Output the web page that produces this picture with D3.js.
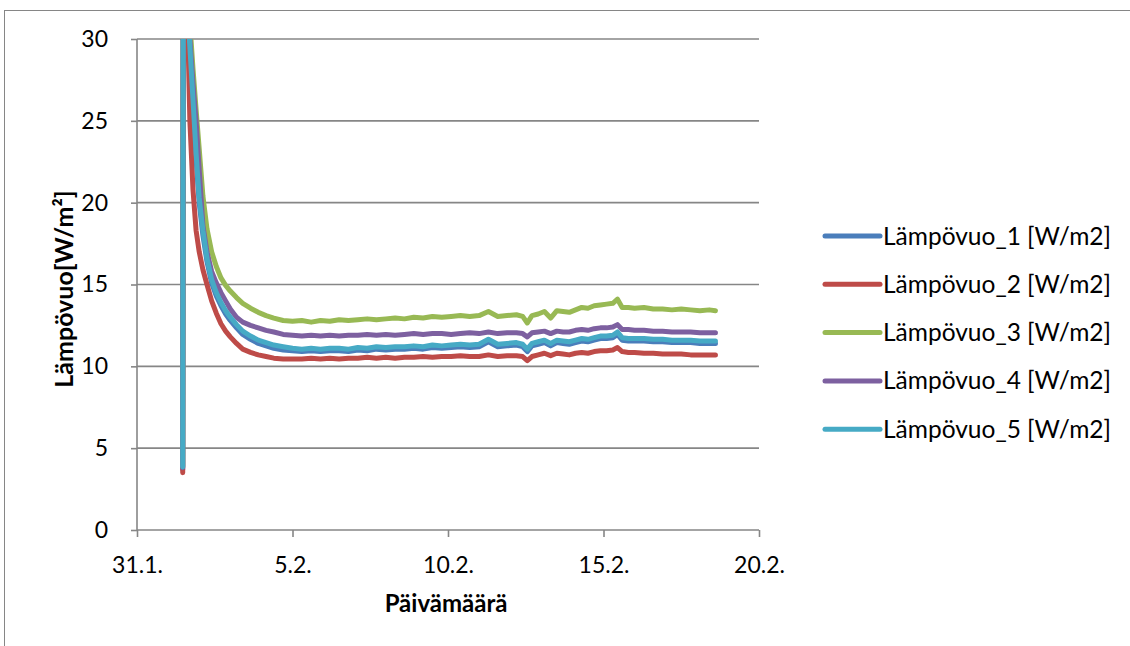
<!DOCTYPE html>
<html lang="fi">
<head>
<meta charset="UTF-8">
<title>Lämpövuo</title>
<script src="https://d3js.org/d3.v7.min.js"></script>
<style>
  body { margin: 0; background: #fff; }
  svg text { font-family: Lato, "Open Sans", sans-serif; fill: #000; }
</style>
</head>
<body>
<div id="chart"></div>
<script>
// days after 31.1. (fractional)
const dayOffsets = [1.47, 1.50, 1.64, 1.70, 1.80, 1.90, 2.00, 2.12, 2.25, 2.40, 2.55, 2.70, 2.85, 3.00, 3.20, 3.40, 3.65, 3.90, 4.15, 4.40, 4.70, 5.00,
  5.30, 5.60, 5.90, 6.20, 6.50, 6.80, 7.10, 7.40, 7.70, 8.00, 8.30, 8.60, 8.90, 9.20, 9.50, 9.80, 10.10, 10.40, 10.70, 11.00, 11.30, 11.60, 11.90,
  12.20, 12.40, 12.55, 12.70, 12.90, 13.10, 13.30, 13.50, 13.70, 13.90, 14.10, 14.30, 14.50, 14.70, 14.90, 15.10, 15.30, 15.45, 15.60, 15.80,
  16.00, 16.30, 16.60, 16.90, 17.20, 17.50, 17.80, 18.10, 18.40, 18.60];

const flux1 = [3.7, 55, 31.3, 29.3, 26.0, 22.7, 20.0, 18.0, 16.4, 15.1, 14.3, 13.7, 13.2, 12.8, 12.35, 11.95, 11.65, 11.4, 11.25, 11.1, 11.0, 10.95,
  10.9, 10.95, 10.9, 10.95, 10.95, 10.9, 11.0, 10.95, 11.05, 11.0, 11.05, 11.05, 11.1, 11.05, 11.15, 11.1, 11.15, 11.2, 11.15, 11.2, 11.5, 11.2, 11.25,
  11.3, 11.2, 10.9, 11.25, 11.35, 11.45, 11.25, 11.45, 11.4, 11.35, 11.45, 11.55, 11.5, 11.6, 11.7, 11.7, 11.75, 11.95, 11.6, 11.55,
  11.55, 11.55, 11.5, 11.5, 11.45, 11.45, 11.45, 11.4, 11.4, 11.4];
const flux2 = [3.5, 55, 30.0, 25.0, 20.8, 18.3, 17.0, 15.9, 15.0, 14.0, 13.25, 12.6, 12.15, 11.8, 11.4, 11.05, 10.85, 10.7, 10.6, 10.5, 10.45, 10.45,
  10.45, 10.5, 10.45, 10.5, 10.45, 10.5, 10.5, 10.55, 10.5, 10.55, 10.5, 10.55, 10.55, 10.6, 10.55, 10.6, 10.6, 10.65, 10.6, 10.6, 10.7, 10.6, 10.65,
  10.65, 10.6, 10.35, 10.6, 10.7, 10.8, 10.65, 10.8, 10.75, 10.7, 10.8, 10.85, 10.8, 10.9, 10.95, 10.95, 11.0, 11.15, 10.9, 10.85,
  10.85, 10.8, 10.8, 10.75, 10.75, 10.75, 10.7, 10.7, 10.7, 10.7];
const flux3 = [3.9, 55, 33.0, 31.0, 28.2, 25.7, 23.3, 20.4, 18.4, 17.0, 16.1, 15.4, 14.95, 14.6, 14.2, 13.85, 13.55, 13.3, 13.1, 12.95, 12.8, 12.75,
  12.8, 12.7, 12.8, 12.75, 12.85, 12.8, 12.85, 12.9, 12.85, 12.9, 12.95, 12.9, 13.0, 12.95, 13.05, 13.0, 13.05, 13.1, 13.05, 13.1, 13.35, 13.05, 13.1,
  13.15, 13.05, 12.65, 13.1, 13.2, 13.35, 12.95, 13.4, 13.35, 13.3, 13.45, 13.6, 13.55, 13.7, 13.75, 13.8, 13.85, 14.1, 13.6, 13.6,
  13.55, 13.6, 13.5, 13.5, 13.45, 13.5, 13.45, 13.4, 13.45, 13.4];
const flux4 = [3.8, 55, 32.0, 30.0, 27.3, 25.0, 22.0, 18.6, 17.0, 15.8, 15.1, 14.5, 14.0, 13.5, 13.0, 12.7, 12.5, 12.35, 12.2, 12.1, 11.95, 11.9,
  11.85, 11.9, 11.85, 11.9, 11.85, 11.9, 11.9, 11.95, 11.9, 11.95, 11.9, 11.95, 12.0, 11.95, 12.0, 12.0, 11.95, 12.0, 12.05, 12.0, 12.1, 12.0, 12.05,
  12.05, 12.0, 11.8, 12.05, 12.1, 12.15, 12.0, 12.15, 12.1, 12.1, 12.2, 12.25, 12.2, 12.3, 12.35, 12.35, 12.4, 12.55, 12.25, 12.25,
  12.2, 12.2, 12.15, 12.15, 12.1, 12.1, 12.1, 12.05, 12.05, 12.05];
const flux5 = [3.85, 55, 31.5, 29.5, 26.3, 23.0, 20.3, 18.3, 16.6, 15.3, 14.5, 13.9, 13.4, 13.0, 12.55, 12.15, 11.85, 11.6, 11.45, 11.3, 11.2, 11.1,
  11.05, 11.1, 11.05, 11.1, 11.1, 11.05, 11.15, 11.1, 11.2, 11.15, 11.2, 11.2, 11.25, 11.2, 11.3, 11.25, 11.3, 11.35, 11.3, 11.35, 11.65, 11.35, 11.4,
  11.45, 11.35, 11.05, 11.4, 11.5, 11.6, 11.4, 11.6, 11.55, 11.5, 11.6, 11.7, 11.65, 11.75, 11.85, 11.85, 11.9, 12.1, 11.75, 11.7,
  11.7, 11.7, 11.65, 11.65, 11.6, 11.6, 11.6, 11.55, 11.55, 11.55];

const seriesNames = ["Lämpövuo_1 [W/m2]", "Lämpövuo_2 [W/m2]", "Lämpövuo_3 [W/m2]", "Lämpövuo_4 [W/m2]", "Lämpövuo_5 [W/m2]"];
const seriesColors = ["#4a7ebb", "#be4b48", "#98b954", "#7d60a0", "#46aac5"];
const yTicks = [0, 5, 10, 15, 20, 25, 30];
const xTickLabels = ["31.1.", "5.2.", "10.2.", "15.2.", "20.2."];

const allSeries = [flux1, flux2, flux3, flux4, flux5];
const baseDate = new Date(2011, 0, 31);
const toDate = d => new Date(baseDate.getTime() + d * 86400000);
const parseTick = d3.timeParse("%d.%m.%Y");
const xTickDates = xTickLabels.map(s => parseTick(s + "2011"));

const W = 1130, H = 646;
const plot = { left: 137, right: 759, top: 39, bottom: 530 };

const svg = d3.select("#chart").append("svg")
  .attr("width", W).attr("height", H);

// outer chart frame
svg.append("rect")
  .attr("x", 4.5).attr("y", 10.5)
  .attr("width", W + 10).attr("height", H + 10)
  .attr("fill", "none").attr("stroke", "#868686").attr("stroke-width", 1);

const x = d3.scaleTime()
  .domain([xTickDates[0], xTickDates[xTickDates.length - 1]])
  .range([plot.left, plot.right]);
const y = d3.scaleLinear()
  .domain([0, 30])
  .range([plot.bottom, plot.top]);

// grid lines
svg.append("g")
  .selectAll("line")
  .data(yTicks.filter(v => v > 0))
  .join("line")
  .attr("x1", plot.left).attr("x2", plot.right)
  .attr("y1", d => y(d)).attr("y2", d => y(d))
  .attr("stroke", "#868686").attr("stroke-width", 1.6);

// y axis
svg.append("g")
  .attr("transform", `translate(${plot.left},0)`)
  .call(d3.axisLeft(y).tickValues(yTicks).tickSize(6).tickPadding(23))
  .call(g => g.selectAll("line, .domain").attr("stroke", "#868686").attr("stroke-width", 1.6))
  .call(g => g.select(".domain").attr("d", `M0,${plot.top}V${plot.bottom}`))
  .call(g => g.selectAll("text").attr("font-size", 23).attr("font-family", "Lato, sans-serif").attr("fill", "#000"));

// x axis
svg.append("g")
  .attr("transform", `translate(0,${plot.bottom})`)
  .call(d3.axisBottom(x).tickValues(xTickDates).tickSize(7).tickPadding(20)
    .tickFormat(d3.timeFormat("%-d.%-m.")))
  .call(g => g.selectAll("line, .domain").attr("stroke", "#868686").attr("stroke-width", 1.6))
  .call(g => g.select(".domain").attr("d", `M${plot.left},0H${plot.right}`))
  .call(g => g.selectAll("text").attr("font-size", 23).attr("font-family", "Lato, sans-serif").attr("fill", "#000"));

// clip to plot area
svg.append("clipPath").attr("id", "plotclip")
  .append("rect")
  .attr("x", plot.left).attr("y", plot.top)
  .attr("width", plot.right - plot.left).attr("height", plot.bottom - plot.top);

const line = d3.line()
  .x((d, i) => x(toDate(dayOffsets[i])))
  .y(d => y(d));

svg.append("g")
  .attr("clip-path", "url(#plotclip)")
  .selectAll("path")
  .data(allSeries)
  .join("path")
  .attr("d", d => line(d))
  .attr("fill", "none")
  .attr("stroke", (d, i) => seriesColors[i])
  .attr("stroke-width", 5)
  .attr("stroke-linejoin", "round")
  .attr("stroke-linecap", "round");

// axis titles
svg.append("text")
  .attr("x", 446).attr("y", 612)
  .attr("text-anchor", "middle")
  .attr("font-size", 24).attr("font-weight", "bold")
  .text("Päivämäärä");

svg.append("text")
  .attr("transform", "translate(73,289) rotate(-90)")
  .attr("text-anchor", "middle")
  .attr("font-size", 25).attr("font-weight", "bold")
  .text("Lämpövuo[W/m²]");

// legend
const legend = svg.append("g").attr("transform", "translate(825,236)");
const items = legend.selectAll("g")
  .data(seriesNames)
  .join("g")
  .attr("transform", (d, i) => `translate(0,${i * 48.3})`);
items.append("line")
  .attr("x1", 0).attr("x2", 55)
  .attr("stroke", (d, i) => seriesColors[i])
  .attr("stroke-width", 5)
  .attr("stroke-linecap", "round");
items.append("text")
  .attr("x", 58).attr("dy", "0.35em")
  .attr("font-size", 24.5)
  .text(d => d);
</script>
</body>
</html>
